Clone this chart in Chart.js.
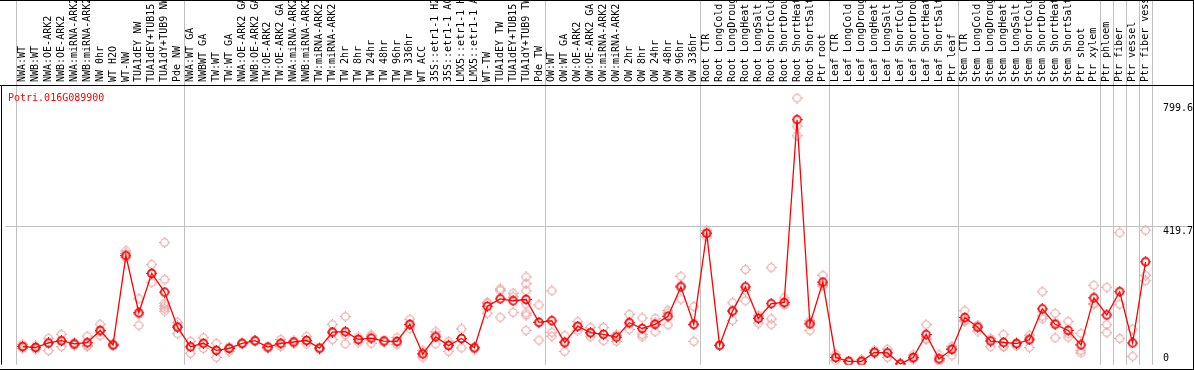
<!DOCTYPE html>
<html lang="en">
<head>
<meta charset="UTF-8">
<title>Potri.016G089900</title>
<style>
  body { margin: 0; background: #fff; }
  #wrap { width: 1194px; height: 370px; }
</style>
</head>
<body>
<div id="wrap"><canvas id="myChart" width="1194" height="370"></canvas></div>
<script src="https://cdn.jsdelivr.net/npm/chart.js"></script>
<script>
var geneName = 'Potri.016G089900';

var categories = [
  'NWA:WT', 'NWB:WT', 'NWA:OE-ARK2', 'NWB:OE-ARK2', 'NWA:miRNA-ARK2', 'NWB:miRNA-ARK2',
  'NW 0hr', 'WT H2O', 'WT-NW', 'TUA1dEY NW', 'TUA1dEY+TUB15 NW', 'TUA1dY+TUB9 NW', 'Pde NW',
  'NWA:WT GA', 'NWBWT GA', 'TW:WT', 'TW:WT GA', 'NWA:OE-ARK2 GA', 'NWB:OE-ARK2 GA',
  'TW:OE-ARK2', 'TW:OE-ARK2 GA', 'NWA:miRNA-ARK2 GA', 'NWB:miRNA-ARK2 GA', 'TW:miRNA-ARK2',
  'TW:miRNA-ARK2 GA', 'TW 2hr', 'TW 8hr', 'TW 24hr', 'TW 48hr', 'TW 96hr', 'TW 336hr',
  'WT ACC', '35S::etr1-1 H2O', '35S::etr1-1 ACC', 'LMX5::etr1-1 H2O', 'LMX5::etr1-1 ACC',
  'WT-TW', 'TUA1dEY TW', 'TUA1dEY+TUB15 TW', 'TUA1dY+TUB9 TW', 'Pde TW',
  'OW:WT', 'OW:WT GA', 'OW:OE-ARK2', 'OW:OE-ARK2 GA', 'OW:miRNA-ARK2', 'OW:miRNA-ARK2 GA',
  'OW 2hr', 'OW 8hr', 'OW 24hr', 'OW 48hr', 'OW 96hr', 'OW 336hr',
  'Root CTR', 'Root LongCold', 'Root LongDrought', 'Root LongHeat', 'Root LongSalt',
  'Root ShortCold', 'Root ShortDrought', 'Root ShortHeat', 'Root ShortSalt', 'Ptr root',
  'Leaf CTR', 'Leaf LongCold', 'Leaf LongDrought', 'Leaf LongHeat', 'Leaf LongSalt',
  'Leaf ShortCold', 'Leaf ShortDrought', 'Leaf ShortHeat', 'Leaf ShortSalt', 'Ptr leaf',
  'Stem CTR', 'Stem LongCold', 'Stem LongDrought', 'Stem LongHeat', 'Stem LongSalt',
  'Stem ShortCold', 'Stem ShortDrought', 'Stem ShortHeat', 'Stem ShortSalt', 'Ptr shoot',
  'Ptr xylem', 'Ptr phloem', 'Ptr fiber', 'Ptr vessel', 'Ptr fiber vessel'
];

var meanValues = [
  46, 43, 57, 64, 54, 58, 96, 51, 328, 151, 273, 215, 106,
  45, 56, 34, 40, 56, 64, 44, 56, 60, 65, 41, 91, 92, 68, 72, 63, 62, 115,
  23, 76, 49, 71, 42, 171, 194, 188, 192, 121,
  126, 58, 109, 89, 84, 75, 120, 102, 115, 140, 231, 115,
  397, 50, 156, 231, 133, 179, 183, 750, 116, 246,
  12, 0, 0, 28, 26, -8, 12, 83, 8, 37,
  136, 106, 63, 59, 55, 67, 163, 115, 96, 51, 197,
  144, 216, 57, 309
];

var replicateValues = [
  [53, 40, 46], [48, 37, 43], [72, 33, 56], [84, 46, 62], [58, 50, 54], [78, 46, 50],
  [115, 80, 92], [54, 48, 50], [343, 335, 322], [194, 112, 146], [301, 244, 273],
  [369, 254, 180, 172, 164, 156], [121, 86, 110],
  [62, 25, 47], [73, 40, 55], [56, 12, 35], [44, 31, 43], [57, 54], [65, 62], [47, 40],
  [68, 46, 54], [64, 56], [78, 54, 63], [43, 38], [115, 68, 88], [139, 54, 82],
  [76, 60, 68], [82, 56, 78], [66, 60], [74, 52, 60], [131, 101, 113],
  [33, 13, 24], [92, 54, 82], [62, 31, 53], [101, 42, 70], [45, 38], [180, 150, 183],
  [225, 137, 220], [211, 200, 152], [262, 241, 219, 178, 150, 143, 96], [175, 66, 122],
  [219, 90, 78], [80, 31, 62], [123, 95, 108], [105, 76, 87], [105, 64, 84], [82, 62, 80],
  [146, 99, 116], [135, 76, 84], [133, 92, 120], [158, 113, 150], [264, 193, 236], [170, 62, 113],
  [406, 386, 400], [50, 49], [182, 127, 158], [285, 188, 220], [143, 119, 138],
  [291, 132, 114], [197, 175, 178], [817, 730, 700], [126, 96, 120], [267, 234, 238],
  [22, 2, 12], [1, -2], [6, -2], [34, 25], [38, 12, 28], [-8, -9], [20, 6, 10],
  [114, 67, 70], [20, 0, 4], [47, 18, 40],
  [157, 124, 128], [112, 94, 110], [71, 45, 66], [83, 47, 45], [58, 48, 56],
  [81, 43, 72], [216, 140, 132], [149, 73, 120], [124, 75, 86], [87, 34, 26],
  [236, 177, 180], [230, 114, 89], [399, 177, 71], [100, 16], [407, 267, 250]
];

// index of the last sample in each group, a grey line is drawn after it
var groupEnds = [12, 40, 52, 62, 72, 83, 84, 85, 86, 87];
var axisLabels = [799.6, 419.7, 0];

var labelFont = '10px "DejaVu Sans Mono", monospace';

function makeMarker(color, lw) {
  var c = document.createElement('canvas');
  c.width = 11;
  c.height = 11;
  var g = c.getContext('2d');
  g.strokeStyle = color;
  g.lineWidth = lw;
  g.beginPath();
  g.arc(5.5, 5.5, 3.8, 0, Math.PI * 2);
  g.stroke();
  g.fillStyle = color;
  g.fillRect(5, 0, 1, 1);
  g.fillRect(5, 10, 1, 1);
  g.fillRect(0, 5, 1, 1);
  g.fillRect(10, 5, 1, 1);
  return c;
}

var meanPoints = [];
var repPoints = [];
for (var i = 0; i < categories.length; i++) {
  meanPoints.push({ x: i, y: meanValues[i] });
  for (var j = 0; j < replicateValues[i].length; j++) {
    repPoints.push({ x: i, y: replicateValues[i][j] });
  }
}

var framePlugin = {
  id: 'frame',
  beforeDatasetsDraw: function (chart) {
    var ctx = chart.ctx;
    var xs = chart.scales.x;
    var ys = chart.scales.y;
    var area = chart.chartArea;
    ctx.save();
    ctx.fillStyle = '#c0c0c0';
    var bounds = [-1].concat(groupEnds);
    for (var k = 0; k < bounds.length; k++) {
      var px = Math.round(xs.getPixelForValue(bounds[k] + 0.5));
      ctx.fillRect(px, 0, 1, area.bottom);
    }
    var gy = Math.round(ys.getPixelForValue(419.7));
    ctx.fillRect(area.left, gy, area.right - area.left, 1);
    ctx.restore();
  },
  afterDatasetsDraw: function (chart) {
    var ctx = chart.ctx;
    var xs = chart.scales.x;
    var ys = chart.scales.y;
    var area = chart.chartArea;
    ctx.save();

    // frame
    ctx.fillStyle = '#000';
    ctx.fillRect(0, 0, 1194, 1);
    ctx.fillRect(0, area.top, 1194, 1);
    ctx.fillRect(1, area.top, 1, area.bottom - area.top);
    ctx.fillRect(1193, 0, 1, 370);
    ctx.fillRect(0, 369, 1194, 1);

    // sample names, rotated
    ctx.font = labelFont;
    ctx.textAlign = 'left';
    ctx.textBaseline = 'middle';
    for (var i = 0; i < categories.length; i++) {
      var px = xs.getPixelForValue(i);
      ctx.save();
      ctx.translate(px, 82);
      ctx.rotate(-Math.PI / 2);
      ctx.fillText(categories[i], 0, 0);
      ctx.restore();
    }

    // value labels on the right
    ctx.textBaseline = 'alphabetic';
    for (var k = 0; k < axisLabels.length; k++) {
      var py = ys.getPixelForValue(axisLabels[k]);
      ctx.fillText(String(axisLabels[k]), 1163, Math.min(py + 7.5, area.bottom - 4));
    }

    ctx.fillStyle = '#ff0000';
    ctx.fillText(geneName, 8, 101);
    ctx.restore();
  }
};

function criarGrafico() {
  var ctx = document.getElementById('myChart');
  new Chart(ctx, {
    type: 'scatter',
    data: {
      datasets: [{
        type: 'line',
        label: 'mean',
        data: meanPoints,
        borderColor: '#ff0000',
        borderWidth: 1.3,
        pointStyle: makeMarker('#ff0000', 1.7),
        tension: 0,
        fill: false,
        order: 0
      }, {
        label: 'replicates',
        data: repPoints,
        pointStyle: makeMarker('#e89c9c', 1.1),
        order: 1
      }]
    },
    options: {
      responsive: false,
      animation: false,
      events: [],
      layout: { padding: { top: 85, left: 1, right: 1, bottom: 1 } },
      plugins: { legend: { display: false }, tooltip: { enabled: false } },
      scales: {
        x: { type: 'linear', display: false, min: -1.346, max: 90.346 },
        y: { type: 'linear', display: false, min: -10.4, max: 857.6 }
      }
    },
    plugins: [framePlugin]
  });
}

criarGrafico();
</script>
</body>
</html>
